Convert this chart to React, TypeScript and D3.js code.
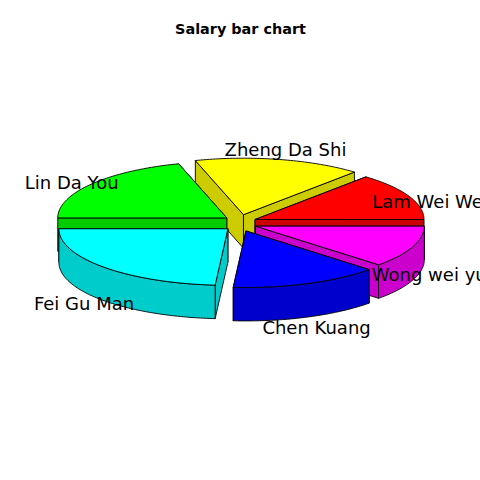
import React from 'react';
import * as d3 from 'd3';

const names = ['Lam Wei Wei', 'Zheng Da Shi', 'Lin Da You', 'Fei Gu Man', 'Chen Kuang', 'Wong wei yu'];
const salaries = [6.8, 8, 10.2, 11.9, 7.1, 6];
const topColors = ['#ff0000', '#ffff00', '#00ff00', '#00ffff', '#0000ff', '#ff00ff'];
const wallColors = ['#cc0000', '#cccc00', '#00cc00', '#00cccc', '#0000cc', '#cc00cc'];
// back slices first, front ones paint over them
const drawOrder = [1, 0, 5, 2, 3, 4];

const size = 480;
const rx = 169;
const ry = 56.5;
const depth = 33.5;
const explodeX = 16.5;
const explodeY = 8.5;

const x = d3.scaleLinear().domain([-1, 1]).range([240 - rx, 240 + rx]);
const y = d3.scaleLinear().domain([-1, 1]).range([223 + ry, 223 - ry]);
const labelX = d3.scaleLinear().domain([-1, 1]).range([240 - 210, 240 + 210]);
const labelY = d3.scaleLinear().domain([-1, 1]).range([241 + 94, 241 - 94]);

const line = d3.line();
const pie = d3.pie<number>().sort(null).startAngle(0).endAngle(2 * Math.PI);

const angles = (a0: number, a1: number) => {
  const n = Math.max(1, Math.ceil(((a1 - a0) * 180) / Math.PI));
  return d3.range(n + 1).map((i) => a0 + ((a1 - a0) * i) / n);
};

export default function App() {
  const arcs = pie(salaries);
  const slices = drawOrder.map((i) => {
    const a0 = arcs[i].startAngle;
    const a1 = arcs[i].endAngle;
    const mid = (a0 + a1) / 2;
    const dx = explodeX * Math.cos(mid);
    const dy = -explodeY * Math.sin(mid);
    const apex: [number, number] = [x(0) + dx, y(0) + dy];
    const rim = (a: number): [number, number] => [x(Math.cos(a)) + dx, y(Math.sin(a)) + dy];
    const down = (p: [number, number]): [number, number] => [p[0], p[1] + depth];
    const cut = (a: number) => line([apex, rim(a), down(rim(a)), down(apex)]) + 'Z';
    const rimPts = angles(a0, a1).map(rim);
    const top = line([apex, ...rimPts]) + 'Z';
    // outer wall only shows on the front half
    const f0 = Math.max(a0, Math.PI);
    const front = a1 > Math.PI ? angles(f0, a1).map(rim) : null;
    const wall = front ? line([...front, ...front.slice().reverse().map(down)]) + 'Z' : null;
    // the cut wall further back goes down first
    const cuts = Math.sin(a0) > Math.sin(a1) ? [cut(a0), cut(a1)] : [cut(a1), cut(a0)];
    return { i, top, wall, cuts };
  });

  // small hand nudges, the labels don't sit exactly on the ellipse
  const nudgeX = [-1, 1, 0, -2, 0.5, -6];
  const nudgeY = [-1, 0, -2, -1, -1, -1];

  return (
    <svg
      width={size}
      height={size}
      style={{ position: 'absolute', left: 0, top: 0, background: '#fff' }}
      fontFamily="DejaVu Sans"
    >
      <text x={240.5} y={34} textAnchor="middle" fontSize={14.4} fontWeight="bold">
        Salary bar chart
      </text>
      {slices.map((s) => (
        <g key={s.i} stroke="#000" strokeWidth={0.9} strokeLinejoin="round">
          <path d={s.cuts[0]} fill={wallColors[s.i]} />
          <path d={s.cuts[1]} fill={wallColors[s.i]} />
          {s.wall && <path d={s.wall} fill={wallColors[s.i]} />}
          <path d={s.top} fill={topColors[s.i]} />
        </g>
      ))}
      {arcs.map((a, i) => {
        const mid = (a.startAngle + a.endAngle) / 2;
        return (
          <text
            key={names[i]}
            x={labelX(Math.cos(mid)) + nudgeX[i]}
            y={labelY(Math.sin(mid)) + nudgeY[i]}
            textAnchor="middle"
            dominantBaseline="central"
            fontSize={18}
          >
            {names[i]}
          </text>
        );
      })}
    </svg>
  );
}
